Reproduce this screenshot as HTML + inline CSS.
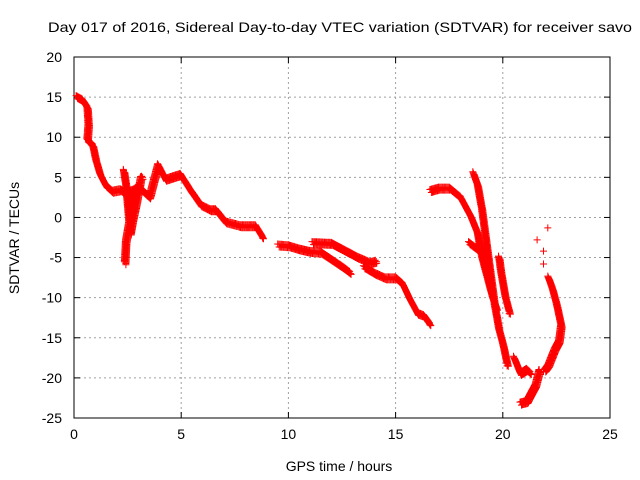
<!DOCTYPE html>
<html><head><meta charset="utf-8"><style>
body{margin:0;background:#fff}
svg{display:block;font-family:"Liberation Sans",sans-serif}
</style></head><body>
<svg id="c" width="640" height="480">
<text x="340" y="32" font-size="14" text-anchor="middle" textLength="584" lengthAdjust="spacingAndGlyphs">Day 017 of 2016, Sidereal Day-to-day VTEC variation (SDTVAR) for receiver savo</text>
<text x="339" y="471" font-size="14" text-anchor="middle">GPS time / hours</text>
<text transform="translate(19,238) rotate(-90)" font-size="14" text-anchor="middle">SDTVAR / TECUs</text>
<g id="grid"></g>
<g id="axes"></g>
<path id="pts" fill="none" stroke="#f00" stroke-width="1"></path>
</svg>
<script>
const xTicks=[0,5,10,15,20,25];
const yTicks=[20,15,10,5,0,-5,-10,-15,-20,-25];
const segMain=[[0.1,15],[0.37,14.6],[0.6,13.7],[0.65,11.5],[0.6,9.6],[0.85,9],[1.0,7.1],[1.2,5.3],[1.45,4],[1.77,3.2],[2.15,3.4],[2.4,3],[2.6,3.2],[2.8,3.4],[3.0,3.8],[3.3,3.0],[3.5,2.5],[3.7,4.5],[3.9,6.5],[4.25,4.7],[4.6,5.0],[4.95,5.3],[5.4,3.4],[5.9,1.5],[6.35,0.9],[6.6,0.9],[7.05,-0.6],[7.75,-1.1],[8.45,-1.1],[8.8,-2.6]];
const segDipA=[[2.3,5.8],[2.4,4],[2.5,1],[2.6,-2],[2.7,-0.5],[2.9,2],[3.1,4.9],[3.2,5]];
const segDipB=[[2.35,-5.7],[2.4,-3],[2.6,0],[2.8,3.4]];
const segMidA=[[9.5,-3.5],[10,-3.6],[10.5,-4],[11,-4.3],[11.5,-4.4],[12,-5.3],[12.5,-6.2],[12.9,-7]];
const segMidB=[[11.1,-3.2],[12,-3.3],[12.5,-4],[13.2,-5],[13.8,-5.7],[14.1,-5.5]];
const segMidC=[[13.5,-6.2],[14,-7],[14.5,-7.6],[15,-7.6],[15.3,-8.3],[15.6,-10],[16,-12],[16.3,-12.3],[16.6,-13.4]];
const segEveA=[[16.6,3.3],[17,3.6],[17.5,3.6],[18,2.5],[18.5,0],[18.8,-2],[19,-5],[19.3,-8],[19.5,-10],[19.7,-11.5]];
const segEveB=[[18.6,5.5],[18.8,4],[19,1],[19.2,-3],[19.4,-7],[19.6,-11],[19.8,-14],[20,-16],[20.2,-18.5]];
const segEveC=[[18.4,-3.2],[18.8,-4]];
const segEveD=[[19.8,-5],[19.9,-7],[20.1,-10],[20.3,-12]];
const segEveE=[[20.5,-17.5],[20.8,-19.5],[21.1,-19],[21.3,-19.5]];
const segEveF=[[20.8,-23.2],[21.1,-23],[21.5,-21],[21.7,-19]];
const segEveG=[[22.1,-7.5],[22.3,-9],[22.5,-11],[22.7,-13.5],[22.6,-15.5],[22.4,-16.5],[22.1,-18.5],[21.9,-19.2]];
const segIsolated=[[21.6,-2.8],[22.1,-1.3],[21.9,-4.2],[21.9,-5.8],[22.0,-19]];
const L=74,R=610,T=57,B=418;
const xs=t=>L+(t/25)*(R-L);
const ys=v=>T+(20-v)/45*(B-T);
const NS="http://www.w3.org/2000/svg";
const g=document.getElementById('grid'),ax=document.getElementById('axes');
function mk(tag,at,par){const e=document.createElementNS(NS,tag);for(const k in at)e.setAttribute(k,at[k]);par.appendChild(e);return e;}
xTicks.forEach(t=>{const x=xs(t);
 if(t>0&&t<25){const l=mk('line',{x1:x,y1:T,x2:x,y2:B,stroke:'#a0a0a0','stroke-dasharray':'2,3'},g);}
 mk('line',{x1:x,y1:B,x2:x,y2:B-6,stroke:'#000'},ax);mk('line',{x1:x,y1:T,x2:x,y2:T+6,stroke:'#000'},ax);
 const tx=mk('text',{x:x,y:B+21,'font-size':14,'text-anchor':'middle'},ax);tx.textContent=t;
 });
yTicks.forEach(v=>{const y=ys(v);
 if(v<20&&v>-25){const l=mk('line',{x1:L,y1:y,x2:R,y2:y,stroke:'#a0a0a0','stroke-dasharray':'2,3'},g);}
 mk('line',{x1:L,y1:y,x2:L+6,y2:y,stroke:'#000'},ax);mk('line',{x1:R,y1:y,x2:R-6,y2:y,stroke:'#000'},ax);
 const tx=mk('text',{x:L-12,y:y+5,'font-size':14,'text-anchor':'end'},ax);tx.textContent=v;
 });
const fr=mk('rect',{x:L,y:T,width:R-L,height:B-T,fill:'none',stroke:'#000'},ax);

let d='';
function plus(x,y){d+=`M${(x-3.5).toFixed(1)} ${y.toFixed(1)}h7M${x.toFixed(1)} ${(y-3.5).toFixed(1)}v7`;}
[segMain,segDipA,segDipB,segMidA,segMidB,segMidC,segEveA,segEveB,segEveC,segEveD,segEveE,segEveF,segEveG].forEach(s=>{
 for(let i=0;i<s.length-1;i++){const x0=xs(s[i][0]),y0=ys(s[i][1]),x1=xs(s[i+1][0]),y1=ys(s[i+1][1]);
  const n=Math.max(1,Math.ceil(Math.hypot(x1-x0,y1-y0)/1.2));
  for(let k=0;k<n;k++){const f=k/n,px=x0+(x1-x0)*f,py=y0+(y1-y0)*f;plus(px,py-1.5);plus(px+1.5,py+1.5);}}
 const e=s[s.length-1];plus(xs(e[0]),ys(e[1]));});
segIsolated.forEach(p=>plus(xs(p[0]),ys(p[1])));
document.getElementById('pts').setAttribute('d',d);
</script>
</body></html>
